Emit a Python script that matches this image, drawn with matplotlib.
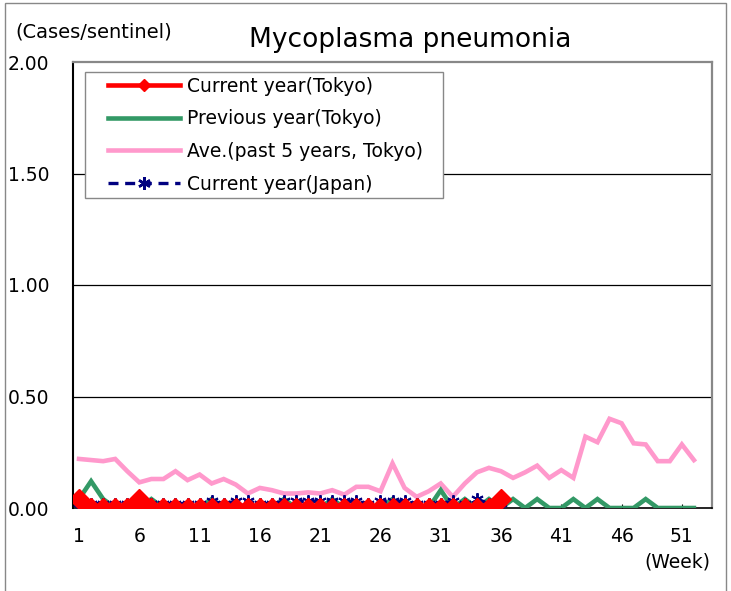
import numpy as np
import matplotlib
matplotlib.use('Agg')
from matplotlib import pyplot as plt
import matplotlib.patches as mpatches

# weekly values (cases per sentinel)
weeks_full = np.arange(1, 53)
weeks_cur = np.arange(1, 37)

ave_5y = [0.22, 0.215, 0.21, 0.22, 0.165, 0.115, 0.13, 0.13, 0.165, 0.125,
          0.15, 0.11, 0.13, 0.105, 0.065, 0.09, 0.08, 0.065, 0.065, 0.07,
          0.065, 0.08, 0.06, 0.095, 0.095, 0.075, 0.2, 0.09, 0.05, 0.075,
          0.11, 0.05, 0.11, 0.16, 0.18, 0.165, 0.135, 0.16, 0.19, 0.135,
          0.17, 0.135, 0.32, 0.295, 0.4, 0.38, 0.29, 0.285, 0.21, 0.21,
          0.285, 0.215]
prev_tokyo = [0.04, 0.12, 0.04, 0, 0, 0, 0.04, 0, 0, 0,
              0, 0.04, 0, 0, 0, 0, 0, 0.04, 0, 0,
              0, 0.04, 0, 0, 0, 0, 0.04, 0, 0, 0,
              0.08, 0, 0.04, 0, 0.04, 0, 0.04, 0, 0.04, 0,
              0, 0.04, 0, 0.04, 0, 0, 0, 0.04, 0, 0,
              0, 0]
cur_tokyo = [0.04, 0, 0, 0, 0, 0.04, 0, 0, 0, 0,
             0, 0, 0, 0, 0, 0, 0, 0, 0, 0,
             0, 0, 0, 0, 0, 0, 0, 0, 0, 0,
             0, 0, 0, 0, 0, 0.04]
cur_japan = [0.0, 0.02, 0.02, 0.02, 0.02, 0.02, 0.02, 0.02, 0.02, 0.02,
             0.02, 0.03, 0.02, 0.03, 0.03, 0.02, 0.02, 0.03, 0.03, 0.03,
             0.03, 0.03, 0.03, 0.03, 0.02, 0.03, 0.03, 0.03, 0.02, 0.02,
             0.02, 0.03, 0.02, 0.04, 0.02, 0.0]

xtick_weeks = [1, 6, 11, 16, 21, 26, 31, 36, 41, 46, 51]
yticks = [0, 0.5, 1.0, 1.5, 2.0]

W, H = 731, 591
fig = plt.figure(figsize=(W/100, H/100), dpi=100)
ax = fig.add_axes([73/W, 1 - 508/H, (712 - 73)/W, (508 - 62)/H])

ax.plot(weeks_full, ave_5y, color='#FF99CC', lw=3.3, solid_joinstyle='miter',
        label='Ave.(past 5 years, Tokyo)', zorder=3)
ax.plot(weeks_full, prev_tokyo, color='#339966', lw=3.3, solid_joinstyle='miter',
        label='Previous year(Tokyo)', zorder=4)
ax.plot(weeks_cur, cur_japan, color='#000080', lw=2.4, ls=(0, (3, 2)),
        marker=(6, 2, 0), markersize=9, markeredgewidth=1.4,
        label='Current year(Japan)', zorder=5)
ax.plot(weeks_cur, cur_tokyo, color='#FF0000', lw=3.3, marker='D',
        markersize=10.5, label='Current year(Tokyo)', zorder=6)

ax.set_xlim(0.5, 53.5)
ax.set_ylim(0, 2.0)
ax.set_yticks(yticks)
ax.set_yticklabels([f'{v:.2f}' for v in yticks])
ax.set_xticks(xtick_weeks)
ax.tick_params(axis='y', length=0, pad=17, labelsize=13.5)
ax.tick_params(axis='x', direction='in', length=3, pad=14, labelsize=13.5)

for y in yticks[1:-1]:
    ax.axhline(y, color='black', lw=0.9, zorder=1)

for s in ['top', 'right']:
    ax.spines[s].set_color('#888888')
    ax.spines[s].set_linewidth(1.6)
ax.spines['left'].set_linewidth(1.5)
ax.spines['bottom'].set_linewidth(1.2)

# legend box drawn by hand so the side padding matches
ax.add_patch(mpatches.Rectangle((85/W, 1 - 198/H), (443 - 85)/W, (198 - 72)/H,
                                transform=fig.transFigure, facecolor='white',
                                edgecolor='#888888', lw=1.0, zorder=7))
handles, labels = ax.get_legend_handles_labels()
order = [3, 1, 0, 2]
leg = ax.legend([handles[i] for i in order], [labels[i] for i in order],
                loc='upper left', bbox_to_anchor=(108/W, 1 - 77/H),
                bbox_transform=fig.transFigure,
                fontsize=13.5, handlelength=3.85, handletextpad=0.35,
                labelspacing=0.72, borderpad=0, borderaxespad=0,
                frameon=False)
leg.set_zorder(8)
leg.legend_handles[0].set_markersize(6)
leg.legend_handles[3].set_markersize(9)
leg.legend_handles[3].set_markeredgewidth(1.8)

fig.text(410/W, 1 - 40/H, 'Mycoplasma pneumonia', ha='center',
         va='center', fontsize=19)
fig.text(15/W, 1 - 32/H, '(Cases/sentinel)', ha='left', va='center',
         fontsize=14)
fig.text(710/W, 1 - 562/H, '(Week)', ha='right', va='center',
         fontsize=13.5)

# outer chart border
fig.patches.append(mpatches.Rectangle((5/W, -0.01), (726 - 5)/W, 1.005,
                                      transform=fig.transFigure, fill=False,
                                      edgecolor='#888888', lw=1.0))

fig.savefig('out.png', dpi=100)
